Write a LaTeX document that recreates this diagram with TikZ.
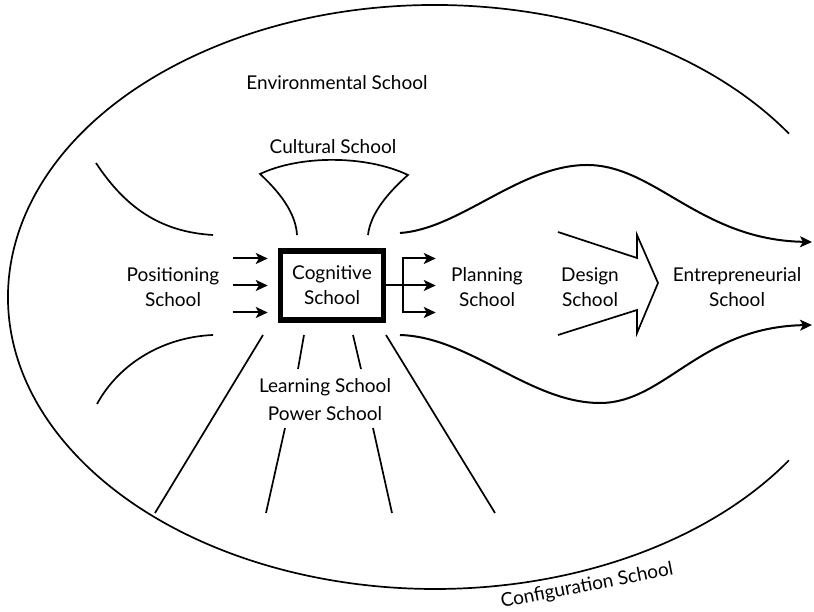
\documentclass[tikz,border=0pt]{standalone}
\usepackage{fontspec}
\setmainfont{Lato}
\usepackage{tikz}
\usetikzlibrary{arrows.meta,positioning,calc}

\tikzset{
  school/.style={align=center, inner sep=0pt, font=\fontsize{19}{25}\selectfont},
  tip/.tip={Stealth[length=12pt,width=11pt,inset=3pt]},
  arr/.style={-tip, line width=2pt},
}

\begin{document}
\begin{tikzpicture}[x=1pt, y=1pt, line width=1.7pt]
  \useasboundingbox (0,0) rectangle (814,612);
  % outer border
  \coordinate (ctr) at (435,315);
  \draw ($(ctr)+(34:427 and 292)$) arc[start angle=34, end angle=326, x radius=427, y radius=292];

  % labels
  \node[school] (env) at (337,529) {Environmental School};
  \node[school] (cult) at (333,465) {Cultural School};
  \node[school] (pos) at (173,325) {Positioning\\School};
  \node[school] (plan) at (487,325) {Planning\\School};
  \node[school] (design) at (590,325) {Design\\School};
  \node[school] (entre) at (737,325) {Entrepreneurial\\School};
  \node[school] (learn) at (325,225) {Learning School};
  \node[school] (power) at (325,198) {Power School};
  \node[school, rotate=11] (config) at (587,26) {Configuration School};

  % centre box
  \node[school, draw, line width=5.5pt, minimum width=103pt, minimum height=69pt]
        (cog) at (332,326.5) {Cognitive\\School};

  % arrows in and out
  \foreach \dy in {27,0,-27}
    \draw[arr] ([shift={(-45,\dy)}]cog.west) -- ([shift={(-10,\dy)}]cog.west);
  \coordinate (fork) at ([xshift=16.5pt]cog.east);
  \draw[arr] (cog.east) -- ([xshift=33pt]fork);
  \draw[tip-tip, line width=2pt] ([shift={(33,27)}]fork) -- ([yshift=27pt]fork)
    -- ([yshift=-27pt]fork) -- ([shift={(33,-27)}]fork);

  % cultural funnel
  \draw (297,377) .. controls (296,395) and (285,415) .. (260,438)
        .. controls (300,457) and (366,457) .. (408,437)
        .. controls (383,415) and (370,395) .. (368,377);

  % side curves
  \draw (96,449) .. controls (125,405) and (160,380) .. (213,377);
  \draw (213,277) .. controls (165,275) and (120,250) .. (97,208);

  % flow to the right
  \draw[arr] (400,379) .. controls (460,383) and (520,447) .. (587,447)
        .. controls (655,447) and (700,372) .. (812,370);
  \draw[arr] (400,277) .. controls (470,275) and (530,209) .. (600,209)
        .. controls (665,209) and (700,285) .. (812,287);

  % design arrow
  \draw[line join=miter] (558,380) -- (637,354) -- (637,377) -- (658,329)
        -- (637,279) -- (637,302) -- (558,277);

  % lines below
  \foreach \xa/\ya/\xb/\yb in {263/277/155/99, 304/277/298/243, 353/277/361/243,
      386/277/495/99, 285/184/266/99, 373/184/392/99}
    \draw (\xa,\ya) -- (\xb,\yb);
\end{tikzpicture}
\end{document}
